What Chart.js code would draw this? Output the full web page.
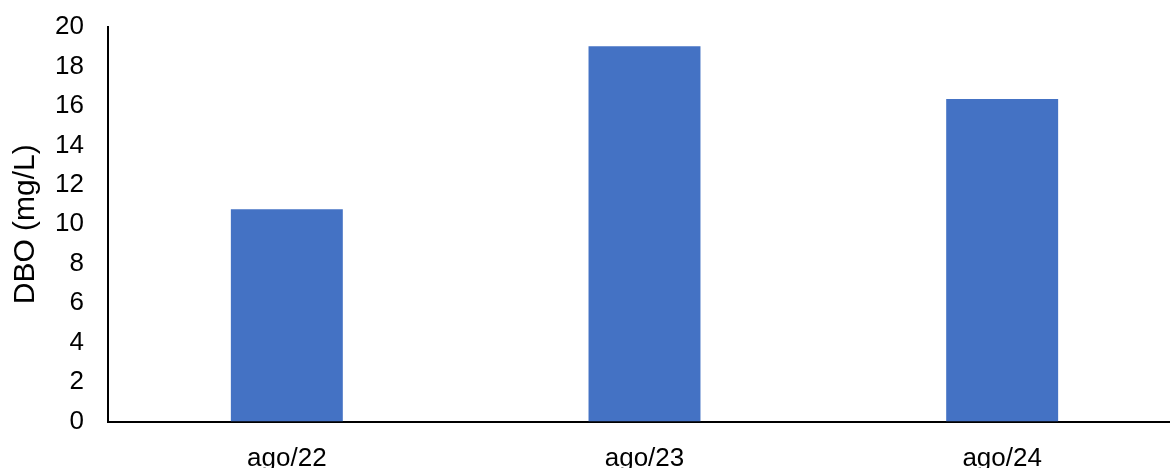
<!DOCTYPE html>
<html>
<head>
<meta charset="utf-8">
<script src="https://cdn.jsdelivr.net/npm/chart.js@4"></script>
<style>
  html, body { margin: 0; padding: 0; background: #fff; overflow: hidden; }
  #wrap { width: 1181px; height: 468px; }
</style>
</head>
<body>
<div id="wrap"><canvas id="dbo"></canvas></div>
<script>
// Chart data
const categories = ['ago/22', 'ago/23', 'ago/24'];
const dboValues = [10.76, 19.03, 16.35];
const yTicks = [0, 2, 4, 6, 8, 10, 12, 14, 16, 18, 20];

const family = 'Liberation Sans, Arial, sans-serif';

new Chart(document.getElementById('dbo'), {
  type: 'bar',
  data: {
    labels: categories,
    datasets: [{
      label: 'DBO',
      data: dboValues,
      backgroundColor: '#4472C4',
      borderWidth: 0,
      barPercentage: 0.313,
      categoryPercentage: 1,
    }],
  },
  options: {
    responsive: true,
    maintainAspectRatio: false,
    animation: false,
    layout: { padding: { top: 27, right: 0, left: 0, bottom: 0 } },
    plugins: { legend: { display: false }, tooltip: { enabled: false } },
    scales: {
      x: {
        grid: { display: false, drawTicks: false },
        border: { color: '#000', width: 2 },
        ticks: { color: '#000', font: { family, size: 26 }, padding: 22 },
        afterFit(scale) { scale.height = 46.5; },
      },
      y: {
        min: 0,
        max: 20,
        afterBuildTicks(scale) { scale.ticks = yTicks.map(v => ({ value: v })); },
        // invisible ticks give the label gap without inflating the top padding
        grid: { display: false, drawTicks: true, tickLength: 16, tickColor: 'rgba(0,0,0,0)' },
        border: { color: '#000', width: 2 },
        ticks: { color: '#000', font: { family, size: 26 }, padding: 8 },
        title: { display: true, text: 'DBO (mg/L)', color: '#000', font: { family, size: 30 }, padding: { top: 8, bottom: 0 } },
        afterFit(scale) { scale.width = 108; },
      },
    },
  },
});
</script>
</body>
</html>
